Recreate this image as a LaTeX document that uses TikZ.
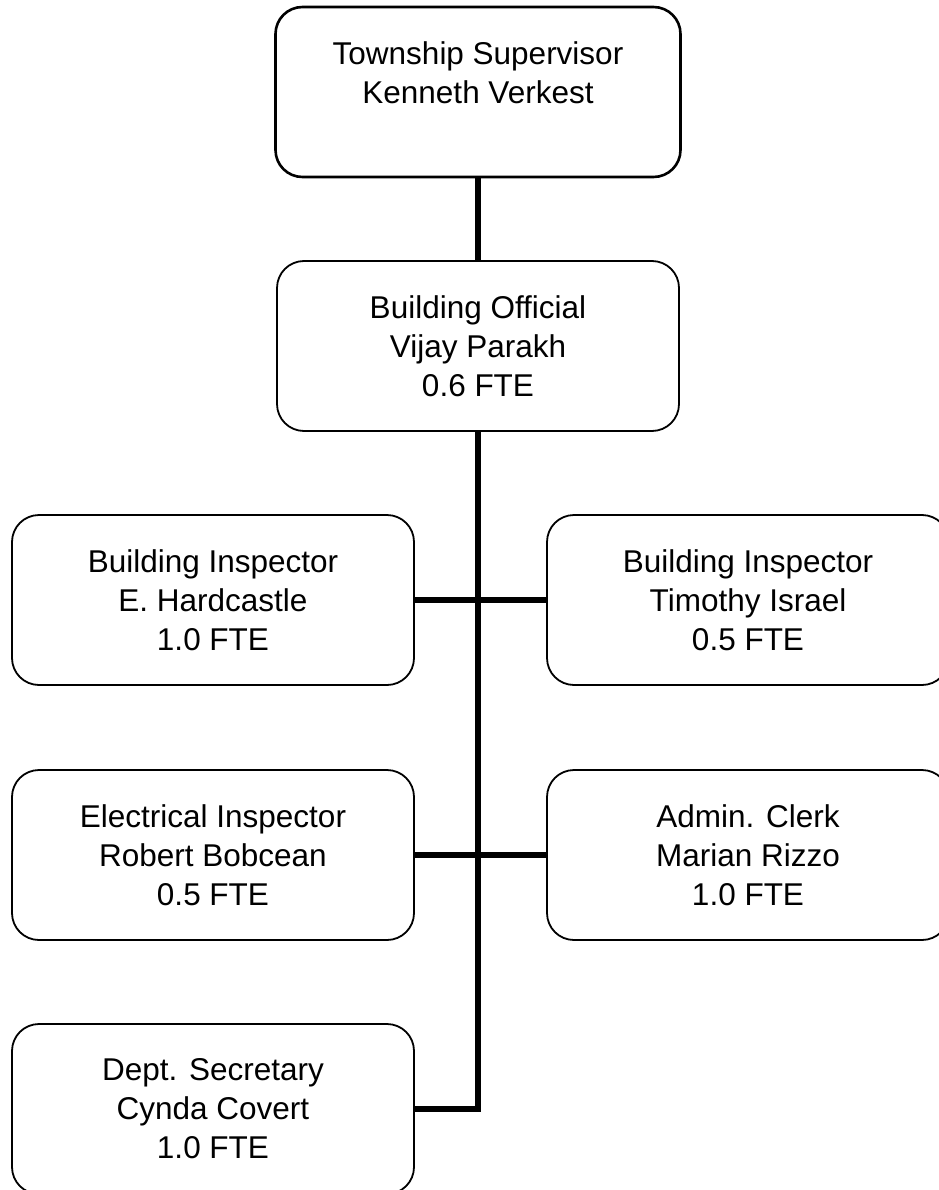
\documentclass[tikz,border=0pt]{standalone}
\usepackage{fontspec}
\setmainfont{Liberation Sans}

\begin{document}
\begin{tikzpicture}[x=1pt, y=1pt,
  post/.style={draw, rounded corners=27pt, line width=1.8pt,
    minimum width=402pt, minimum height=170pt, align=center,
    font=\fontsize{31.5}{39}\selectfont},
  link/.style={line width=5.5pt}]

  \useasboundingbox (0,0) rectangle (938,-1190);

  % --- Define nodes ---
  \node[post, line width=2.6pt, minimum width=405pt] (sup) at (478,-92)
    {Township Supervisor\\Kenneth Verkest\\\mbox{}};
  \node[post] (off) at (478,-346) {Building Official\\Vijay Parakh\\0.6 FTE};

  \node[post] (bi1) at (213,-600) {Building Inspector\\E. Hardcastle\\1.0 FTE};
  \node[post] (bi2) at (748,-600) {Building Inspector\\Timothy Israel\\0.5 FTE};

  \node[post] (ei) at (213,-855) {Electrical Inspector\\Robert Bobcean\\0.5 FTE};
  \node[post] (ac) at (748,-855) {Admin. Clerk\\Marian Rizzo\\1.0 FTE};

  \node[post] (ds) at (213,-1109) {Dept. Secretary\\Cynda Covert\\1.0 FTE};

  % --- Connect the boxes ---
  \draw[link] (sup.south) -- (off.north);
  \draw[link] (off.south) |- (ds.east);

  % rows off the trunk
  \draw[link] (bi1.east) -- (bi2.west);
  \draw[link] (ei.east) -- (ac.west);

\end{tikzpicture}
\end{document}
